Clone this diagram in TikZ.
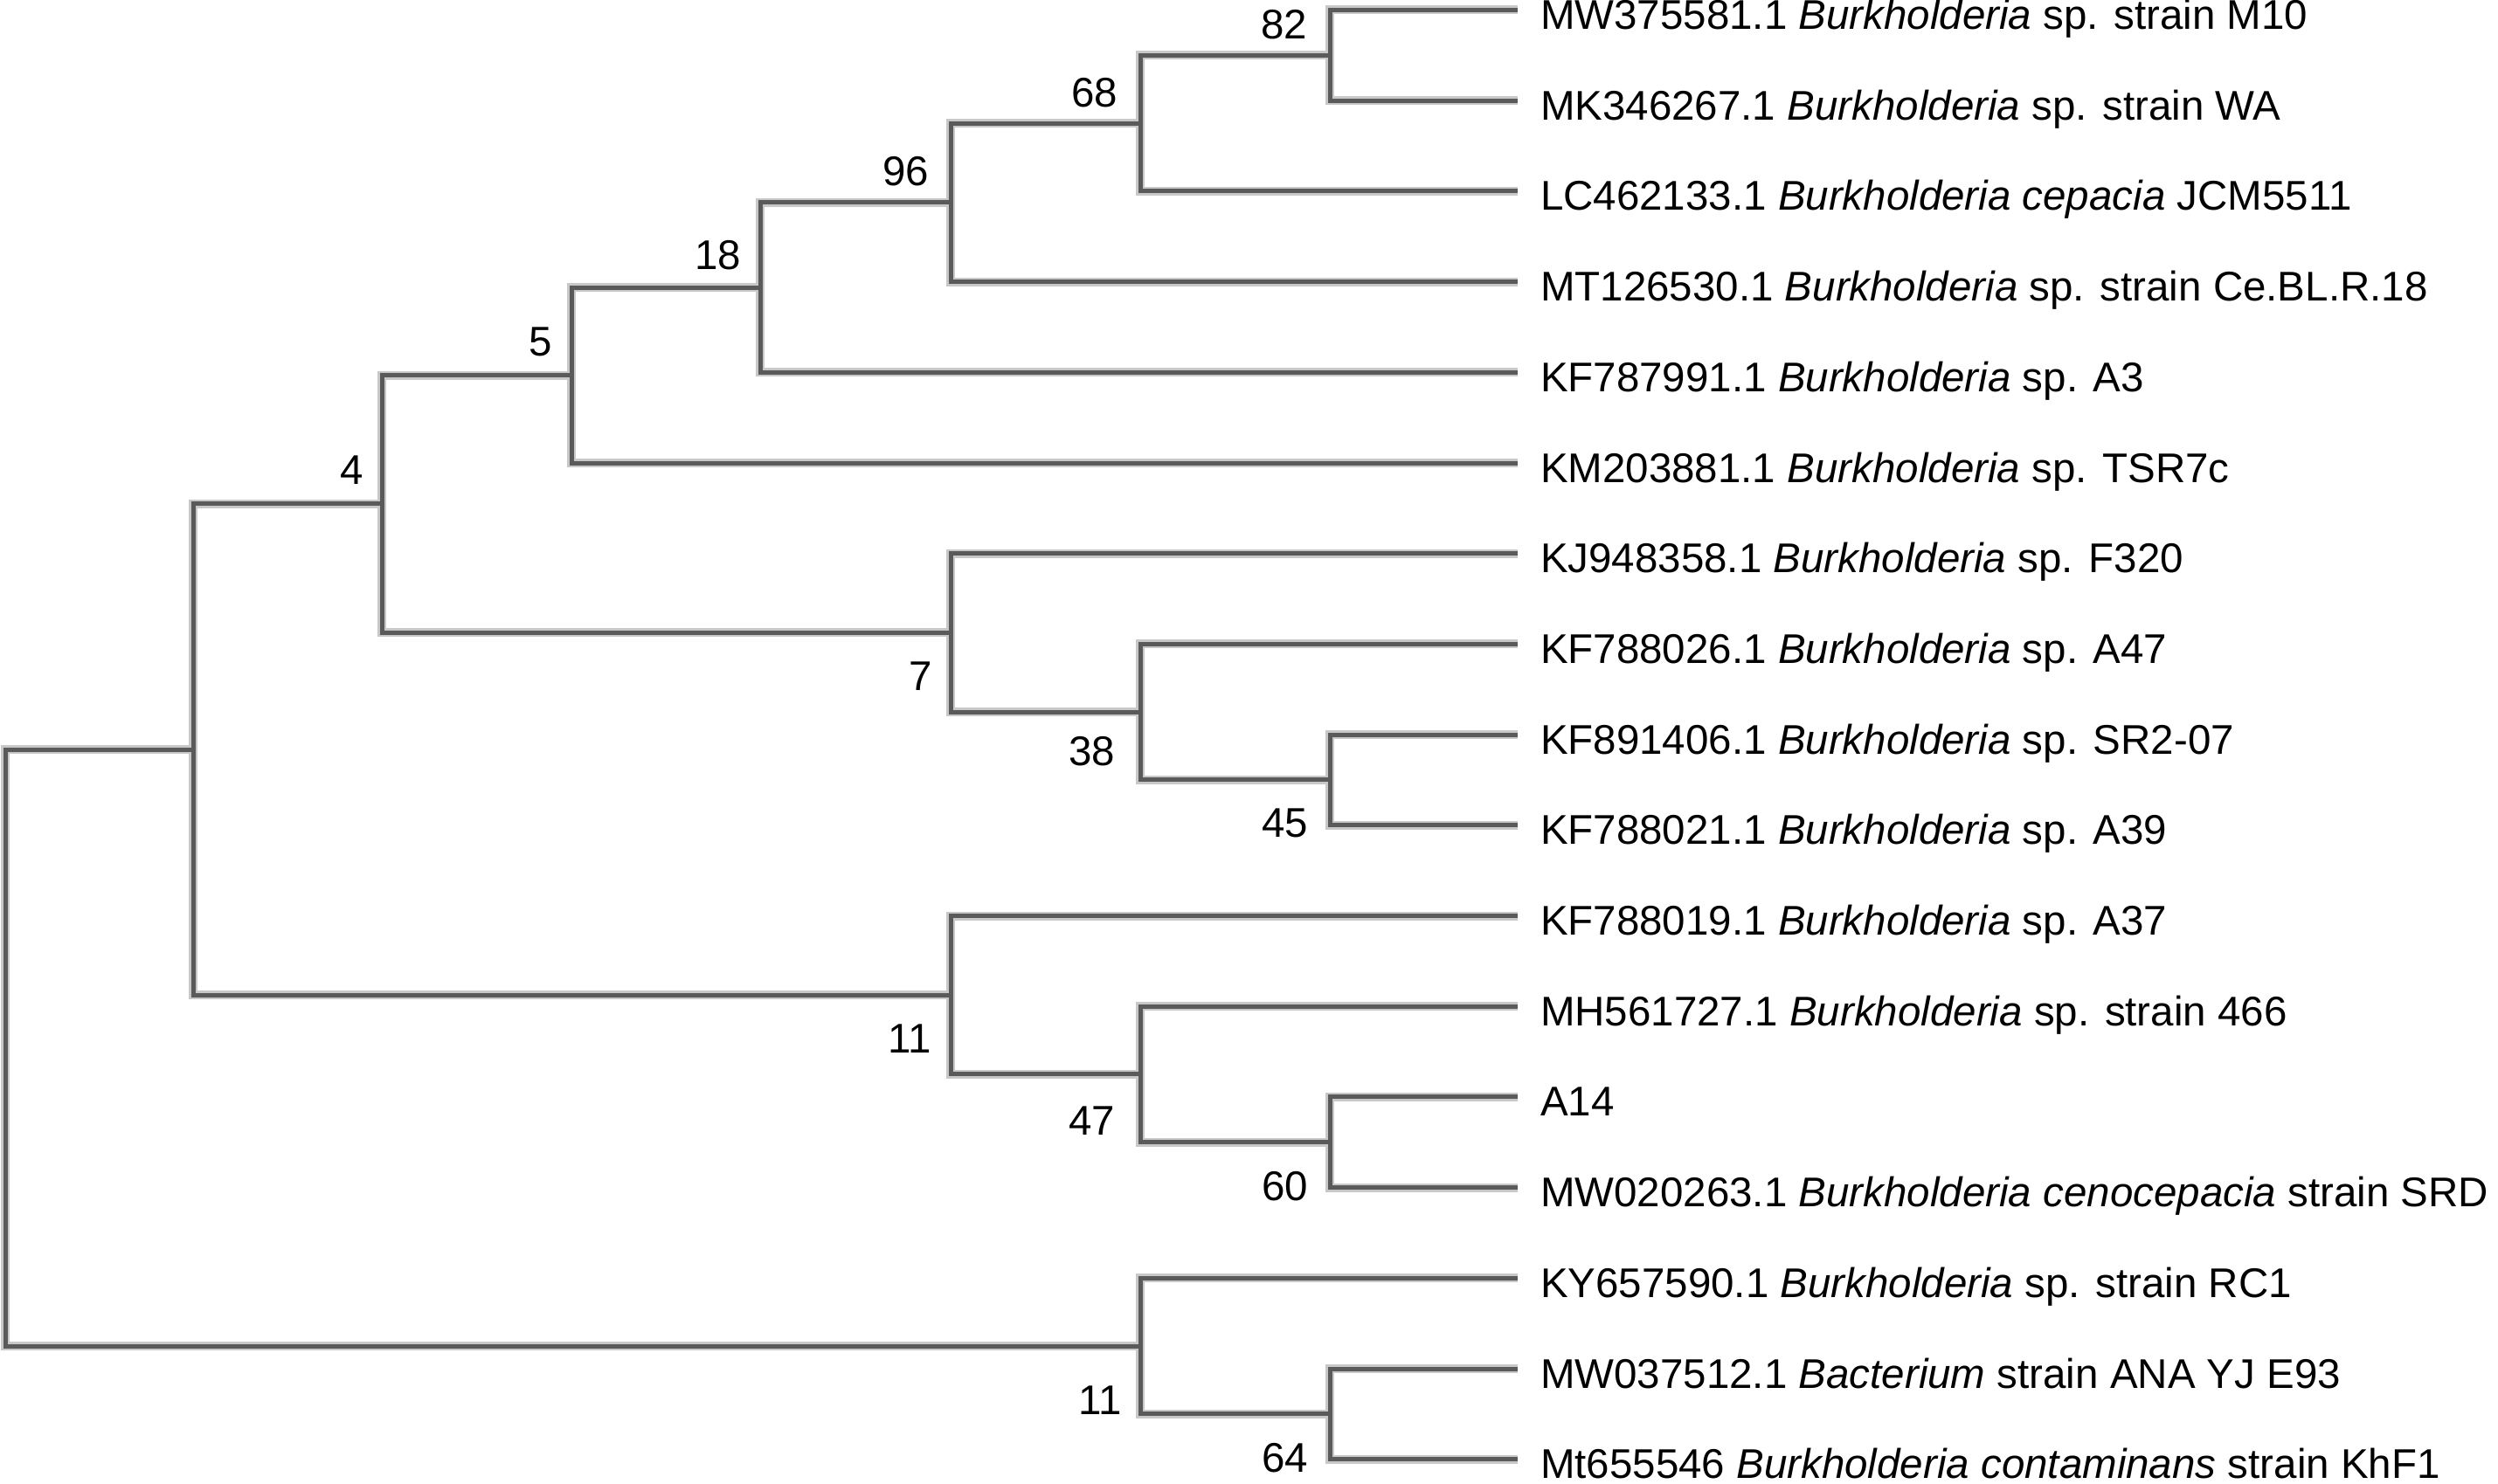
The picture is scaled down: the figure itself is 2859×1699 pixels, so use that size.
\documentclass[tikz,border=0pt]{standalone}
\usepackage{fontspec}
\setmainfont{Liberation Sans}
\definecolor{brdark}{HTML}{5A5A5A}
\definecolor{brhalo}{HTML}{C8C8C8}
\begin{document}
\begin{tikzpicture}[x=1pt,y=-1pt,
  halo/.style={draw=brhalo,line width=10pt},
  darkbr/.style={draw=brdark,line width=5pt},
  leaf/.style={anchor=base west,inner sep=0pt,outer sep=0pt,font=\fontsize{47.5}{57}\selectfont},
  bsup/.style={anchor=base east,inner sep=0pt,outer sep=0pt,font=\fontsize{47.5}{57}\selectfont},
  bsdn/.style={anchor=base east,inner sep=0pt,outer sep=0pt,font=\fontsize{47.5}{57}\selectfont}]
\fill[white] (0,0) rectangle (2859,1699);
\useasboundingbox (0,0) rectangle (2859,1699);

% leaf ends
\foreach \i in {0,...,16}{\coordinate (e\i) at (1737, 11.5+103.7*\i);}

% internal nodes
\coordinate (n82) at (1522, 11.5+103.7*0.5);
\coordinate (n68) at (1305, 11.5+103.7*1.25);
\coordinate (n96) at (1088, 11.5+103.7*2.125);
\coordinate (n18) at (870, 11.5+103.7*3.0625);
\coordinate (n5) at (654, 11.5+103.7*4.03125);
\coordinate (n45) at (1522, 11.5+103.7*8.5);
\coordinate (n38) at (1305, 11.5+103.7*7.75);
\coordinate (n7) at (1088, 11.5+103.7*6.875);
\coordinate (n4) at (437, 11.5+103.7*5.453125);
\coordinate (n60) at (1522, 11.5+103.7*12.5);
\coordinate (n47) at (1305, 11.5+103.7*11.75);
\coordinate (n11a) at (1088, 11.5+103.7*10.875);
\coordinate (nA) at (221, 11.5+103.7*8.1640625);
\coordinate (n64) at (1522, 11.5+103.7*15.5);
\coordinate (n11b) at (1305, 11.5+103.7*14.75);
\coordinate (root) at (6, 11.5+103.7*11.45703125);

\newcommand\treeedges[1]{%
\draw[#1] (n82) |- (e0) (n82) |- (e1)
  (n68) |- (n82) (n68) |- (e2)
  (n96) |- (n68) (n96) |- (e3)
  (n18) |- (n96) (n18) |- (e4)
  (n5) |- (n18) (n5) |- (e5)
  (n4) |- (n5) (n4) |- (n7)
  (n7) |- (e6) (n7) |- (n38)
  (n38) |- (e7) (n38) |- (n45)
  (n45) |- (e8) (n45) |- (e9)
  (nA) |- (n4) (nA) |- (n11a)
  (n11a) |- (e10) (n11a) |- (n47)
  (n47) |- (e11) (n47) |- (n60)
  (n60) |- (e12) (n60) |- (e13)
  (root) |- (nA) (root) |- (n11b)
  (n11b) |- (e14) (n11b) |- (n64)
  (n64) |- (e15) (n64) |- (e16);}
\treeedges{halo}
\treeedges{darkbr}

% leaf labels
\node[leaf] (t0) at (1763, 33.5+103.7*0) {MW375581.1 \textit{Burkholderia} sp. strain M10};
\node[leaf] (t1) at (1763, 33.5+103.7*1) {MK346267.1 \textit{Burkholderia} sp. strain WA};
\node[leaf] (t2) at (1763, 33.5+103.7*2) {LC462133.1 \textit{Burkholderia cepacia} JCM5511};
\node[leaf] (t3) at (1763, 33.5+103.7*3) {MT126530.1 \textit{Burkholderia} sp. strain Ce.BL.R.18};
\node[leaf] (t4) at (1763, 33.5+103.7*4) {KF787991.1 \textit{Burkholderia} sp. A3};
\node[leaf] (t5) at (1763, 33.5+103.7*5) {KM203881.1 \textit{Burkholderia} sp. TSR7c};
\node[leaf] (t6) at (1763, 33.5+103.7*6) {KJ948358.1 \textit{Burkholderia} sp. F320};
\node[leaf] (t7) at (1763, 33.5+103.7*7) {KF788026.1 \textit{Burkholderia} sp. A47};
\node[leaf] (t8) at (1763, 33.5+103.7*8) {KF891406.1 \textit{Burkholderia} sp. SR2-07};
\node[leaf] (t9) at (1763, 33.5+103.7*9) {KF788021.1 \textit{Burkholderia} sp. A39};
\node[leaf] (t10) at (1763, 33.5+103.7*10) {KF788019.1 \textit{Burkholderia} sp. A37};
\node[leaf] (t11) at (1763, 33.5+103.7*11) {MH561727.1 \textit{Burkholderia} sp. strain 466};
\node[leaf] (t12) at (1763, 33.5+103.7*12) {A14};
\node[leaf] (t13) at (1763, 33.5+103.7*13) {MW020263.1 \textit{Burkholderia cenocepacia} strain SRD};
\node[leaf] (t14) at (1763, 33.5+103.7*14) {KY657590.1 \textit{Burkholderia} sp. strain RC1};
\node[leaf] (t15) at (1763, 33.5+103.7*15) {MW037512.1 \textit{Bacterium} strain ANA YJ E93};
\node[leaf] (t16) at (1763, 33.5+103.7*16) {Mt655546 \textit{Burkholderia contaminans} strain KhF1};

% bootstrap values
\node[bsup] (b82) at ([shift={(-26,-19)}]n82) {82};
\node[bsup] (b68) at ([shift={(-26,-19)}]n68) {68};
\node[bsup] (b96) at ([shift={(-25,-19)}]n96) {96};
\node[bsup] (b18) at ([shift={(-22,-21)}]n18) {18};
\node[bsup] (b5) at ([shift={(-22,-22)}]n5) {5};
\node[bsup] (b4) at ([shift={(-21,-22)}]n4) {4};
\node[bsdn] (b7) at ([shift={(-21,66)}]n7) {7};
\node[bsdn] (b38) at ([shift={(-29,61)}]n38) {38};
\node[bsdn] (b45) at ([shift={(-25,66)}]n45) {45};
\node[bsdn] (b11a) at ([shift={(-22,66)}]n11a) {11};
\node[bsdn] (b47) at ([shift={(-29,70)}]n47) {47};
\node[bsdn] (b60) at ([shift={(-25,67)}]n60) {60};
\node[bsdn] (b11b) at ([shift={(-21,78)}]n11b) {11};
\node[bsdn] (b64) at ([shift={(-25,67)}]n64) {64};
\end{tikzpicture}
\end{document}
